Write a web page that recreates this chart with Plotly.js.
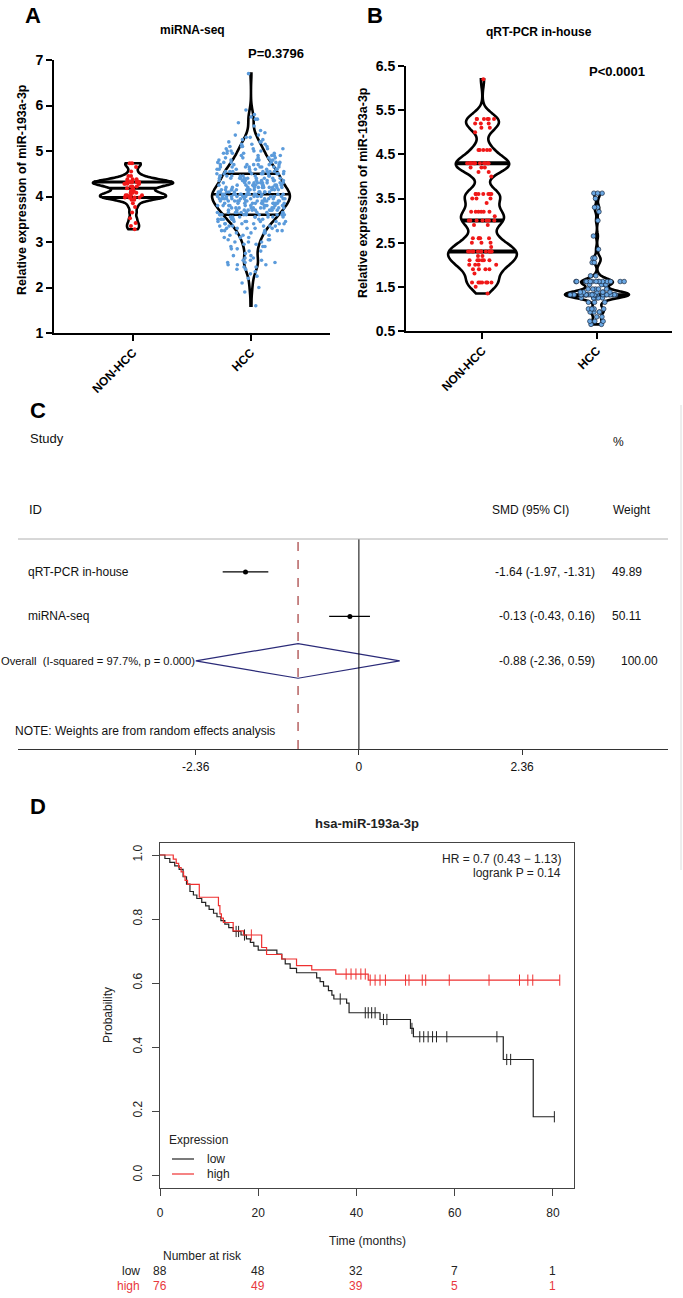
<!DOCTYPE html>
<html><head><meta charset="utf-8">
<script src="https://cdn.plot.ly/plotly-3.0.1.min.js"></script>
<style>html,body{margin:0;padding:0;background:#fff}#chart{width:683px;height:1298px}</style>
</head><body><div id="chart"></div>
<script>
// ================= DATA =================
// Panel A : miRNA-seq (values read from swarm, as value bins with counts)
const catsA = ['NON-HCC', 'HCC'];
const aNonVals = [3.28,3.35,3.42,3.52,3.65,3.77,3.85,3.93,3.98,4.03,4.08,4.12,4.18,4.22,4.28,4.32,4.38,4.45,4.55,4.65,4.73];
const aNonCnts = [1,1,1,1,1,1,1,2,5,4,3,2,2,3,5,6,3,2,1,1,2];
const aHccVals = [1.60,1.90,2.00,2.10,2.20,2.25,2.30,2.35,2.40,2.45,2.50,2.55,2.60,2.65,2.70,2.75,2.80,2.85,2.90,2.95,
  3.00,3.05,3.10,3.15,3.20,3.25,3.30,3.35,3.40,3.45,3.50,3.55,3.60,3.65,3.70,3.75,3.80,3.85,3.90,3.95,
  4.00,4.05,4.10,4.15,4.20,4.25,4.30,4.35,4.40,4.45,4.50,4.55,4.60,4.65,4.70,4.75,4.80,4.85,4.90,4.95,
  5.00,5.05,5.10,5.15,5.20,5.25,5.30,5.35,5.40,5.45,5.55,5.62,5.70,5.75,5.80,5.90,6.70];
const aHccCnts = [1,1,1,1,1,1,1,1,2,2,3,3,3,2,2,1,2,2,3,2,
  3,3,4,3,4,5,5,6,6,7,8,8,10,10,10,11,11,12,13,13,
  14,14,13,12,11,11,10,10,10,9,9,9,8,8,7,6,6,5,5,5,
  4,4,4,3,3,2,2,2,1,1,1,1,2,1,1,1,1];
const pA = 'P=0.3796';
const titleA = 'miRNA-seq';

// Panel B : qRT-PCR in-house
const catsB = ['NON-HCC', 'HCC'];
const bNonVals = [1.35,1.5,1.6,1.8,1.9,2.0,2.1,2.2,2.3,2.4,2.5,2.6,2.9,3.0,3.1,3.2,3.4,3.5,3.6,4.0,4.1,4.2,4.3,4.6,5.0,5.1,5.2,5.3,6.2];
const bNonCnts = [1,1,7,1,4,4,6,2,12,1,3,5,2,7,1,6,1,3,7,1,2,3,12,5,1,2,3,6,1];
const bHccVals = [0.65,0.72,0.82,0.93,1.0,1.15,1.25,1.32,1.38,1.45,1.55,1.62,1.75,2.05,2.15,2.35,2.65,3.0,3.2,3.3,3.5,3.62];
const bHccCnts = [2,3,2,4,4,3,6,26,6,5,4,14,2,2,3,1,1,1,1,2,1,3];
const pB = 'P<0.0001';
const titleB = 'qRT-PCR in-house';
const yTitleAB = 'Relative expression of miR-193a-3p';

// Panel C : forest plot
const studies = ['qRT-PCR in-house', 'miRNA-seq'];
const smd = [-1.64, -0.13];
const ciLo = [-1.97, -0.43];
const ciHi = [-1.31, 0.16];
const weights = [49.89, 50.11];
const overallSmd = -0.88, overallLo = -2.36, overallHi = 0.59, overallWeight = 100.00;
const overallLabel = 'Overall  (I-squared = 97.7%, p = 0.000)';
const forestTicks = [-2.36, 0, 2.36];

// Panel D : Kaplan-Meier
const kmTitle = 'hsa-miR-193a-3p';
const lowT = [0,1.0,2.0,3.0,3.9,4.7,5.4,6.1,6.8,7.5,8.5,9.3,10.0,10.9,11.6,12.4,13.2,14.0,14.9,16.5,17.6,18.4,19.1,20.0,23.8,24.8,25.5,26.5,27.8,31.9,32.6,33.3,34.3,35.0,35.4,38.0,38.5,44.8,51.0,51.6,69.9,76.0];
const lowS = [1.000,0.989,0.977,0.966,0.955,0.932,0.909,0.886,0.875,0.864,0.852,0.841,0.830,0.818,0.807,0.795,0.784,0.773,0.761,0.750,0.738,0.727,0.715,0.703,0.690,0.675,0.660,0.646,0.632,0.616,0.604,0.590,0.576,0.562,0.550,0.537,0.507,0.486,0.458,0.432,0.361,0.182];
const lowCens = [15.5,16.0,17.2,36.7,41.8,42.4,43.1,43.8,45.5,46.2,51.3,52.9,53.7,54.6,55.5,56.3,58.4,68.6,70.6,71.4,80.3];
const highT = [0,2.7,3.3,3.8,4.3,4.8,5.1,5.6,8.0,11.9,12.2,12.5,12.9,14.9,17.0,20.7,21.7,24.8,27.8,30.9,35.8,42.4];
const highS = [1.000,0.987,0.974,0.961,0.947,0.934,0.921,0.908,0.868,0.842,0.816,0.803,0.789,0.763,0.750,0.711,0.689,0.675,0.654,0.641,0.628,0.609];
const highCens = [18.6,37.9,38.9,39.9,40.9,41.8,42.8,43.8,44.8,45.9,50.0,50.7,53.4,54.1,58.9,67.0,73.2,74.9,75.9,81.4];
const riskTimes = [0, 20, 40, 60, 80];
const riskLow = [88, 48, 32, 7, 1];
const riskHigh = [76, 49, 39, 5, 1];
const hrText = 'HR = 0.7 (0.43 \u2212 1.13)';
const pText = 'logrank P = 0.14';
const groups = ['low', 'high'];

// ================= HELPERS =================
const W = 683, H = 1298;
const FONT = 'Liberation Sans, Arial, Helvetica, sans-serif';
const px = v => v / W;
const py = v => 1 - v / H;
const expand = (vals, cnts) => { const o = []; vals.forEach((v, i) => { for (let k = 0; k < cnts[i]; k++) o.push(v); }); return o; };
function kdeInfo(vals, bw) {
  const n = vals.length, f = 1 / (n * bw * Math.sqrt(2 * Math.PI));
  const kde = x => { let s = 0; for (const v of vals) { const u = (x - v) / bw; s += Math.exp(-0.5 * u * u); } return s * f; };
  const lo = Math.min(...vals), hi = Math.max(...vals);
  const dist = hi - lo, m = Math.ceil(dist / (bw / 3)), step = dist / m;
  let max = 0;
  for (let t = lo; t < hi + step / 2; t += step) max = Math.max(max, kde(t));
  return { kde, max };
}
function quantile(sorted, p) {
  const pos = (sorted.length - 1) * p, i = Math.floor(pos), fr = pos - i;
  return sorted[i + 1] !== undefined ? sorted[i] + fr * (sorted[i + 1] - sorted[i]) : sorted[i];
}
const stepAt = (T, S, t) => { let s = S[0]; for (let i = 0; i < T.length; i++) if (T[i] <= t) s = S[i]; return s; };

const traces = [];
const shapes = [];
const annotations = [];
function ann(text, x, y, o = {}) {
  annotations.push(Object.assign({
    text, x: px(x), y: py(y), xref: 'paper', yref: 'paper', showarrow: false,
    xanchor: 'center', yanchor: 'middle',
    font: { family: FONT, size: 12, color: '#000' }
  }, o));
}

// ================= VIOLINS =================
function violin(vals, cnts, pos, xa, ya, cfg) {
  const y = expand(vals, cnts);
  traces.push({
    type: 'violin', x0: pos, y, xaxis: xa, yaxis: ya, width: cfg.width, bandwidth: cfg.bw,
    spanmode: 'hard', scalemode: 'width', side: 'both',
    line: { color: '#000', width: cfg.lw }, fillcolor: 'rgba(0,0,0,0)',
    points: 'all', pointpos: 0, jitter: cfg.jitter,
    marker: { color: cfg.color, size: cfg.size, line: { color: cfg.mline || cfg.color, width: cfg.mlw || 0 } },
    box: { visible: false }, meanline: { visible: false },
    hoverinfo: 'skip', showlegend: false
  });
  const sorted = y.slice().sort((a, b) => a - b);
  const { kde, max } = kdeInfo(y, cfg.bw);
  [0.25, 0.5, 0.75].forEach(p => {
    const q = quantile(sorted, p);
    const hw = cfg.width / 2 * kde(q) / max;
    shapes.push({ type: 'line', xref: xa, yref: ya, x0: pos - hw, x1: pos + hw, y0: q, y1: q, layer: 'below',
      line: { color: '#000', width: cfg.qw } });
  });
}
violin(aNonVals, aNonCnts, 0, 'x', 'y', { width: 0.68, bw: 0.055, lw: 2.6, jitter: 0.4, color: '#f01818', size: 4, qw: 3 });
violin(aHccVals, aHccCnts, 1, 'x', 'y', { width: 0.66, bw: 0.14, lw: 2.6, jitter: 0.9, color: '#5b9bdb', size: 3.6, qw: 2.5 });
violin(bNonVals, bNonCnts, 0, 'x2', 'y2', { width: 0.6, bw: 0.17, lw: 2.6, jitter: 0.45, color: '#f01818', size: 4, qw: 4 });
violin(bHccVals, bHccCnts, 1, 'x2', 'y2', { width: 0.56, bw: 0.07, lw: 2.6, jitter: 0.85, color: '#6aa8e4', size: 4.6, mline: '#1a2a40', mlw: 0.7, qw: 3 });

// ================= FOREST =================
const rowY = studies.map((s, i) => studies.length + 1 - i); // 3, 2
const overallY = 1;
const fFont = { family: FONT, size: 12, color: '#111' };
studies.forEach((s, i) => {
  traces.push({ type: 'scatter', mode: 'lines', x: [ciLo[i], ciHi[i]], y: [rowY[i], rowY[i]], xaxis: 'x3', yaxis: 'y3',
    line: { color: '#000', width: 1.3 }, hoverinfo: 'skip', showlegend: false });
  traces.push({ type: 'scatter', mode: 'markers', x: [smd[i]], y: [rowY[i]], xaxis: 'x3', yaxis: 'y3',
    marker: { color: '#000', size: 5, symbol: 'circle' }, hoverinfo: 'skip', showlegend: false });
  annotations.push({ text: s, x: px(26), y: rowY[i], xref: 'paper', yref: 'y3', xanchor: 'left', yanchor: 'middle', showarrow: false, font: fFont });
  annotations.push({ text: `${smd[i].toFixed(2)} (${ciLo[i].toFixed(2)}, ${ciHi[i].toFixed(2)})`, x: px(597), y: rowY[i], xref: 'paper', yref: 'y3',
    xanchor: 'right', yanchor: 'middle', showarrow: false, font: fFont });
  annotations.push({ text: weights[i].toFixed(2), x: px(610), y: rowY[i], xref: 'paper', yref: 'y3',
    xanchor: 'left', yanchor: 'middle', showarrow: false, font: fFont });
});
const dh = 0.39;
traces.push({ type: 'scatter', mode: 'lines', x: [overallLo, overallSmd, overallHi, overallSmd, overallLo],
  y: [overallY, overallY + dh, overallY, overallY - dh, overallY], xaxis: 'x3', yaxis: 'y3',
  line: { color: '#2a2a78', width: 1.2 }, hoverinfo: 'skip', showlegend: false });
annotations.push({ text: overallLabel, x: px(197), y: overallY, xref: 'paper', yref: 'y3', xanchor: 'right', yanchor: 'middle', showarrow: false,
  font: { family: FONT, size: 11.2, color: '#111' } });
annotations.push({ text: `${overallSmd.toFixed(2)} (${overallLo.toFixed(2)}, ${overallHi.toFixed(2)})`, x: px(597), y: overallY, xref: 'paper', yref: 'y3',
  xanchor: 'right', yanchor: 'middle', showarrow: false, font: fFont });
annotations.push({ text: overallWeight.toFixed(2), x: px(619), y: overallY, xref: 'paper', yref: 'y3',
  xanchor: 'left', yanchor: 'middle', showarrow: false, font: fFont });
shapes.push({ type: 'line', xref: 'x3', yref: 'paper', x0: 0, x1: 0, y0: py(749), y1: py(539), line: { color: '#000', width: 1 } });
shapes.push({ type: 'line', xref: 'x3', yref: 'paper', x0: overallSmd, x1: overallSmd, y0: py(749), y1: py(539), line: { color: '#a33a3a', width: 1.2, dash: 'dash' } });
shapes.push({ type: 'line', xref: 'paper', yref: 'paper', x0: px(18), x1: px(668), y0: py(539), y1: py(539), line: { color: '#b0b0b0', width: 1 } });
shapes.push({ type: 'line', xref: 'paper', yref: 'paper', x0: px(681), x1: px(681), y0: py(405), y1: py(870), line: { color: '#dcdcdc', width: 1 } });

// ================= KAPLAN-MEIER =================
const kmCol = ['#222222', '#ee3030'];
[[lowT, lowS, lowCens], [highT, highS, highCens]].forEach(([T, S, C], g) => {
  const tEnd = Math.max(...C, ...T);
  traces.push({ type: 'scatter', mode: 'lines', x: [...T, tEnd], y: [...S, S[S.length - 1]], xaxis: 'x4', yaxis: 'y4',
    line: { shape: 'hv', color: kmCol[g], width: 1.2 }, hoverinfo: 'skip', showlegend: false });
  traces.push({ type: 'scatter', mode: 'markers', x: C, y: C.map(t => stepAt(T, S, t)), xaxis: 'x4', yaxis: 'y4',
    marker: { symbol: 'line-ns-open', size: 8, color: kmCol[g], line: { color: kmCol[g], width: 1 } }, hoverinfo: 'skip', showlegend: false });
});
riskTimes.forEach((t, i) => {
  annotations.push({ text: String(riskLow[i]), x: t, y: py(1271), xref: 'x4', yref: 'paper', showarrow: false, xanchor: 'center', yanchor: 'middle',
    font: { family: FONT, size: 12, color: '#222' } });
  annotations.push({ text: String(riskHigh[i]), x: t, y: py(1286), xref: 'x4', yref: 'paper', showarrow: false, xanchor: 'center', yanchor: 'middle',
    font: { family: FONT, size: 12, color: '#e8383d' } });
});
ann(groups[0], 142, 1271, { xanchor: 'right', font: { family: FONT, size: 12, color: '#222' } });
ann(groups[1], 142, 1286, { xanchor: 'right', font: { family: FONT, size: 12, color: '#e8383d' } });
ann('Number at risk', 161, 1256, { xanchor: 'left', font: { family: FONT, size: 12, color: '#222' } });
ann('Time (months)', 367, 1241, { font: { family: FONT, size: 12, color: '#222' } });
ann('Probability', 108, 1015, { textangle: -90, font: { family: FONT, size: 12, color: '#222' } });
ann(hrText, 563, 859, { xanchor: 'right', font: { family: FONT, size: 12, color: '#222' } });
ann(pText, 563, 873, { xanchor: 'right', font: { family: FONT, size: 12, color: '#222' } });
ann(kmTitle, 367, 823, { font: { family: FONT, size: 13, color: '#222', weight: 'bold' } });
ann('Expression', 167, 1140, { xanchor: 'left', font: { family: FONT, size: 12, color: '#222' } });
groups.forEach((g, i) => {
  const yy = 1159 + i * 15;
  shapes.push({ type: 'line', xref: 'paper', yref: 'paper', x0: px(172), x1: px(194), y0: py(yy), y1: py(yy), line: { color: kmCol[i], width: 1.2 } });
  ann(g, 205, yy, { xanchor: 'left', font: { family: FONT, size: 12, color: '#222' } });
});

// ================= PANEL TEXT =================
const bold = (s) => ({ family: FONT, size: s, color: '#000', weight: 'bold' });
ann('A', 33, 16, { font: bold(22) });
ann('B', 375, 16, { font: bold(22) });
ann('C', 38, 410, { font: bold(22) });
ann('D', 38, 806, { font: bold(22) });
ann(titleA, 192, 30, { font: bold(12) });
ann(pA, 276, 54, { font: bold(13) });
ann(titleB, 539, 32, { font: bold(12) });
ann(pB, 617, 72, { font: bold(13) });
ann(yTitleAB, 22, 190, { textangle: -90, font: bold(12.5) });
ann(yTitleAB, 363, 193, { textangle: -90, font: bold(12.5) });
ann('Study', 28, 439, { xanchor: 'left', font: { family: FONT, size: 13, color: '#111' } });
ann('%', 618, 442, { font: fFont });
ann('ID', 27, 510, { xanchor: 'left', font: { family: FONT, size: 13, color: '#111' } });
ann('SMD (95% CI)', 530, 510, { font: fFont });
ann('Weight', 632, 510, { font: fFont });
ann('NOTE: Weights are from random effects analysis', 13, 731, { xanchor: 'left', font: fFont });

// ================= AXES =================
const vAxisX = (dom, range, cats) => ({
  domain: dom, range, tickvals: [0, 1], ticktext: cats, tickangle: -45, showline: true, linecolor: '#000', linewidth: 2,
  ticks: 'outside', ticklen: 6, tickwidth: 2, tickcolor: '#000', showgrid: false, zeroline: false, fixedrange: true,
  tickfont: bold(12)
});
const vAxisY = (dom, range, tick0) => ({
  domain: dom, range, tick0, dtick: 1, showline: true, linecolor: '#000', linewidth: 2, ticks: 'outside', ticklen: 6,
  tickwidth: 2, tickcolor: '#000', showgrid: false, zeroline: false, fixedrange: true, tickfont: bold(14)
});
const layout = {
  width: W, height: H, margin: { l: 0, r: 0, t: 0, b: 0 }, paper_bgcolor: '#fff', plot_bgcolor: 'rgba(0,0,0,0)',
  showlegend: false, font: { family: FONT },
  xaxis: Object.assign(vAxisX([px(54), px(330)], [-0.67, 1.67], catsA), { anchor: 'y' }),
  yaxis: Object.assign(vAxisY([py(333), py(60)], [1, 7], 1), { anchor: 'x', tickformat: 'd' }),
  xaxis2: Object.assign(vAxisX([px(406), px(672)], [-0.668, 1.655], catsB), { anchor: 'y2' }),
  yaxis2: Object.assign(vAxisY([py(331), py(66)], [0.5, 6.5], 0.5), { anchor: 'x2', tickformat: '.1f' }),
  xaxis3: { domain: [px(18), px(668)], range: [-4.93, 4.47], anchor: 'y3', tickvals: forestTicks, ticktext: forestTicks.map(String),
    showline: true, linecolor: '#333', linewidth: 1, ticks: 'outside', ticklen: 5, tickcolor: '#333', showgrid: false, zeroline: false,
    tickfont: fFont, ticklabelstandoff: 2, fixedrange: true },
  yaxis3: { domain: [py(749), py(539)], range: [-0.98, 3.74], anchor: 'x3', visible: false, fixedrange: true },
  xaxis4: { domain: [px(160), px(574)], range: [0, 84.3], anchor: 'y4', tickvals: riskTimes, showline: true, mirror: true,
    linecolor: '#444', linewidth: 1, ticks: 'outside', ticklen: 7, tickcolor: '#444', showgrid: false, zeroline: false,
    tickfont: { family: FONT, size: 12, color: '#222' }, ticklabelstandoff: 7, fixedrange: true },
  yaxis4: { domain: [py(1188), py(843)], range: [-0.0406, 1.0375], anchor: 'x4', tickvals: [0, 0.2, 0.4, 0.6, 0.8, 1.0], tickformat: '.1f',
    tickangle: -90, showline: true, mirror: true, linecolor: '#444', linewidth: 1, ticks: 'outside', ticklen: 7, tickcolor: '#444',
    showgrid: false, zeroline: false, tickfont: { family: FONT, size: 12, color: '#222' }, ticklabelstandoff: 5, fixedrange: true },
  shapes, annotations
};
Plotly.newPlot('chart', traces, layout, { displayModeBar: false, staticPlot: true });
</script></body></html>
